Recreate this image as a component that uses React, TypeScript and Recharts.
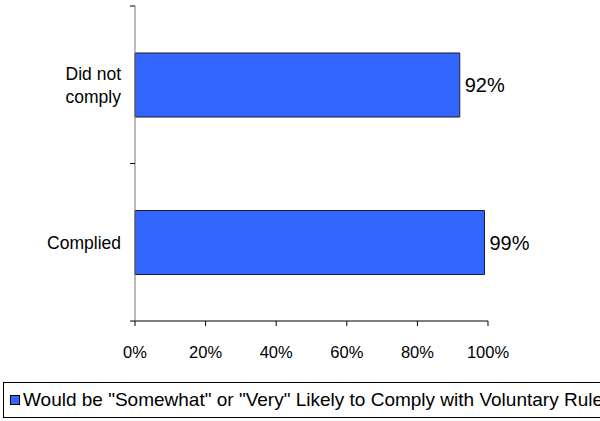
import { Bar, BarChart, LabelList, XAxis, YAxis } from "recharts";

const categories = ["Did not comply", "Complied"];
const categoryLines = [["Did not", "comply"], ["Complied"]];
const likelyToComply = [0.92, 0.99];
const xTicks = [0, 0.2, 0.4, 0.6, 0.8, 1];
const seriesName = 'Would be "Somewhat" or "Very" Likely to Comply with Voluntary Rules';

const WIDTH = 600;
const HEIGHT = 421;
const MARGIN = { top: 6, right: 112, bottom: 70, left: 0 };
const Y_AXIS_WIDTH = 135;
const X_AXIS_HEIGHT = 30;
const BAR_COLOR = "#3366FF";
const FONT = "'Liberation Sans', Arial, sans-serif";

const data = categories.map((name, i) => ({
  name,
  lines: categoryLines[i],
  value: likelyToComply[i],
}));

const plotHeight = HEIGHT - MARGIN.top - MARGIN.bottom - X_AXIS_HEIGHT;
const bandHalf = plotHeight / categories.length / 2;

const pct = (v: number) => `${Math.round(v * 100)}%`;

function CategoryTick(props: any) {
  const { x, y, index } = props;
  const lines: string[] = categoryLines[index] ?? [String(props.payload?.value)];
  const lineHeight = 23;
  const startY = y - ((lines.length - 1) * lineHeight) / 2;
  const axisX = Y_AXIS_WIDTH;
  return (
    <g>
      <line x1={axisX - 5} x2={axisX} y1={y - bandHalf} y2={y - bandHalf} stroke="#000" />
      {index === categories.length - 1 && (
        <line x1={axisX - 5} x2={axisX} y1={y + bandHalf} y2={y + bandHalf} stroke="#000" />
      )}
      <text x={x} y={startY} textAnchor="end" fontSize={17.5} fill="#000" fontFamily={FONT}>
        {lines.map((line, i) => (
          <tspan key={i} x={x} dy={i === 0 ? "0.36em" : lineHeight}>
            {line}
          </tspan>
        ))}
      </text>
    </g>
  );
}

export default function App() {
  return (
    <div
      style={{
        position: "absolute",
        left: 0,
        top: 0,
        width: WIDTH,
        height: HEIGHT,
        overflow: "hidden",
        background: "#fff",
        fontFamily: FONT,
      }}
    >
      <BarChart width={WIDTH} height={HEIGHT} data={data} layout="vertical" margin={MARGIN}>
        <XAxis
          type="number"
          domain={[0, 1]}
          ticks={xTicks}
          tickFormatter={pct}
          height={X_AXIS_HEIGHT}
          tickSize={5}
          tickMargin={20}
          axisLine={{ stroke: "#000" }}
          tickLine={{ stroke: "#000" }}
          tick={{ fill: "#000", fontSize: 16.5, fontFamily: FONT }}
        />
        <YAxis
          type="category"
          dataKey="name"
          width={Y_AXIS_WIDTH}
          tickSize={5}
          tickMargin={9}
          tickLine={false}
          axisLine={{ stroke: "#777" }}
          tick={<CategoryTick />}
          interval={0}
        />
        <Bar
          dataKey="value"
          name={seriesName}
          fill={BAR_COLOR}
          stroke="#1a1a33"
          strokeWidth={1}
          barSize={64}
          isAnimationActive={false}
        >
          <LabelList
            dataKey="value"
            position="right"
            offset={5}
            formatter={(v: any) => pct(Number(v))}
            fill="#000"
            fontSize={20}
            fontFamily={FONT}
          />
        </Bar>
      </BarChart>
      <div
        style={{
          position: "absolute",
          left: 3,
          top: 382,
          width: 660,
          height: 36,
          border: "1px solid #000",
          boxSizing: "border-box",
          display: "flex",
          alignItems: "center",
          whiteSpace: "nowrap",
          fontSize: 19,
          color: "#000",
        }}
      >
        <span
          style={{
            display: "inline-block",
            width: 8,
            height: 8,
            marginLeft: 6,
            marginRight: 3,
            background: BAR_COLOR,
            border: "1px solid #000",
          }}
        />
        <span>{seriesName}</span>
      </div>
    </div>
  );
}
